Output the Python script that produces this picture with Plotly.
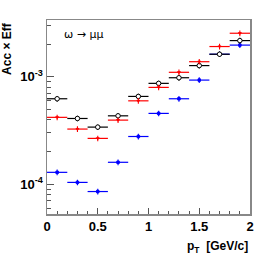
import plotly.graph_objects as go

pt = [0.1, 0.3, 0.5, 0.7, 0.9, 1.1, 1.3, 1.5, 1.7, 1.9]
pt_halfwidth = [0.1] * 10
black_vals = [6.24e-4, 4.09e-4, 3.40e-4, 4.33e-4, 6.56e-4, 8.68e-4, 9.79e-4, 1.27e-3, 1.62e-3, 2.17e-3]
red_vals = [4.19e-4, 3.26e-4, 2.67e-4, 3.95e-4, 5.97e-4, 7.96e-4, 1.10e-3, 1.38e-3, 1.91e-3, 2.54e-3]
blue_vals = [1.29e-4, 1.04e-4, 8.55e-5, 1.60e-4, 2.78e-4, 4.56e-4, 6.24e-4, 9.31e-4, 1.62e-3, 1.97e-3]
rel_err = 6  # percent

y_major = [1e-4, 1e-3]
y_major_text = ["10<sup>-4</sup>", "10<sup>-3</sup>"]
y_minor = [6e-5, 7e-5, 8e-5, 9e-5, 2e-4, 3e-4, 4e-4, 5e-4, 6e-4, 7e-4, 8e-4, 9e-4, 2e-3, 3e-3]
x_major = [0, 0.5, 1, 1.5, 2]
x_major_text = ["0", "0.5", "1", "1.5", "2"]

fig = go.Figure()

def add(vals, color, symbol, size, fill):
    fig.add_trace(go.Scatter(
        x=pt, y=vals, mode="markers",
        marker=dict(symbol=symbol, size=size, color=fill,
                    line=dict(color=color, width=1)),
        error_x=dict(type="data", array=pt_halfwidth, color=color, thickness=1.2, width=0),
        error_y=dict(type="percent", value=rel_err, color=color, thickness=1.1, width=0),
        showlegend=False,
    ))

add(blue_vals, "#0000ff", "square", 2.5, "#0000ff")
add(black_vals, "#000000", "circle", 4.5, "white")
add(red_vals, "#ff0000", "triangle-down", 2.5, "#ff0000")

axis_font = dict(family="Liberation Sans, Arial, sans-serif", size=13, color="black", weight="bold")

fig.update_xaxes(
    range=[0, 2], showline=True, linecolor="#888888", linewidth=1.5, mirror=True,
    showgrid=False, zeroline=False,
    tickvals=x_major, ticktext=x_major_text, ticks="inside", ticklen=6, tickcolor="#555555",
    tickfont=axis_font,
    minor=dict(dtick=0.1, ticks="inside", ticklen=3, tickcolor="#555555", showgrid=False),
)
fig.update_yaxes(
    type="log", range=[-4.277, -2.472], showline=True, linecolor="#888888", linewidth=1.5, mirror=True,
    showgrid=False, zeroline=False,
    tickvals=y_major, ticktext=y_major_text, ticks="inside", ticklen=7, tickcolor="#555555",
    tickfont=axis_font,
    minor=dict(tickvals=y_minor, ticks="inside", ticklen=3.5, tickcolor="#555555", showgrid=False),
)

fig.add_annotation(
    text="Acc × Eff", textangle=-90, xref="paper", yref="paper",
    x=-0.2, y=1.0, xanchor="center", yanchor="top", showarrow=False,
    font=dict(family="Liberation Sans, Arial, sans-serif", size=12, color="black", weight="bold"),
)
fig.add_annotation(
    text="p<sub>T</sub>  [GeV/c]", xref="paper", yref="paper",
    x=1.0, y=-0.12, xanchor="right", yanchor="top", showarrow=False,
    font=dict(family="Liberation Sans, Arial, sans-serif", size=12, color="black", weight="bold"),
)
fig.add_annotation(
    text="ω → μμ", xref="paper", yref="paper",
    x=0.075, y=0.925, xanchor="left", yanchor="middle", showarrow=False,
    font=dict(family="DejaVu Sans, sans-serif", size=11, color="#000000"),
)

fig.update_layout(
    width=266, height=255,
    margin=dict(l=47, r=16, t=20, b=41),
    paper_bgcolor="white", plot_bgcolor="white",
)

fig.write_html("out.html", config={"displayModeBar": False, "staticPlot": True},
               post_script="document.body.style.margin='0';document.body.style.overflow='hidden';")
